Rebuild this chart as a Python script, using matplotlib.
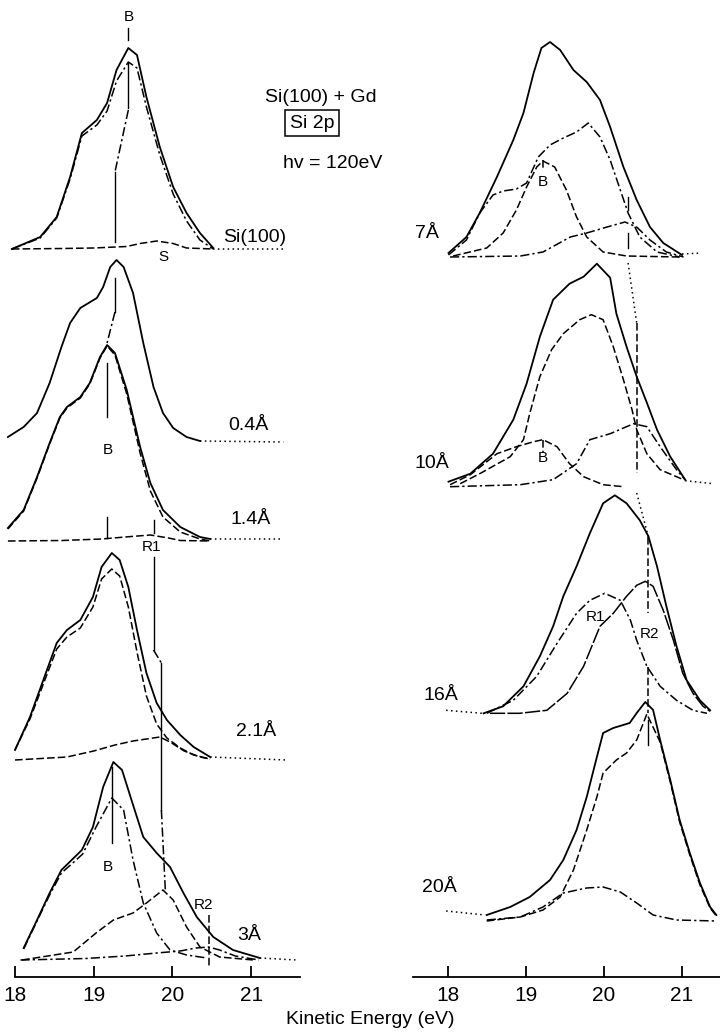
import matplotlib.pyplot as plt

plt.rcParams['font.family'] = ['Liberation Sans', 'DejaVu Sans']

# ---- left column: Si(100) + Gd, Si 2p, low coverages ----
# energies in eV, intensities in arbitrary units (height above each baseline)
si_e = [17.96, 18.32, 18.53, 18.70, 18.85, 19.04, 19.17, 19.29, 19.44, 19.55, 19.67, 19.84, 20.01, 20.18, 20.35, 20.52]
si_tot = [0, 12, 32, 72, 116, 129, 146, 179, 201, 194, 152, 102, 62, 36, 16, 1]
si_b = [0, 11, 31, 70, 113, 124, 138, 168, 187, 181, 142, 94, 55, 28, 9, 0]
si_s_e = [17.96, 18.6, 19.0, 19.42, 19.59, 19.80, 20.01, 20.18, 20.52]
si_s = [0, 0.5, 1, 2.5, 5.5, 8, 5.5, 1, 0]

d04_e = [17.91, 18.11, 18.28, 18.44, 18.59, 18.70, 18.83, 19.04, 19.12, 19.21, 19.29, 19.38, 19.50, 19.63, 19.76, 19.88, 20.01, 20.18, 20.35]
d04_tot = [5, 15, 29, 59, 95, 119, 134, 144, 155, 175, 182, 175, 149, 99, 55, 29, 14, 5, 1]

d14_e = [17.91, 18.11, 18.28, 18.44, 18.57, 18.66, 18.83, 18.95, 19.08, 19.17, 19.27, 19.42, 19.59, 19.72, 19.88, 20.10, 20.35, 20.48]
d14_tot = [13, 31, 64, 98, 124, 134, 144, 158, 184, 196, 188, 151, 94, 58, 31, 14, 4, 2]
d14_b = [12, 30, 63, 97, 123, 133, 143, 157, 183, 195, 186, 147, 88, 50, 24, 9, 2, 0]
d14_r1_e = [17.91, 18.6, 19.1, 19.4, 19.72, 19.95, 20.1, 20.48]
d14_r1 = [0, 0.5, 2, 4, 6, 3, 0.5, 0]

d21_e = [18.00, 18.19, 18.36, 18.53, 18.66, 18.83, 18.99, 19.10, 19.23, 19.33, 19.44, 19.55, 19.67, 19.80, 19.93, 20.10, 20.27, 20.48]
d21_tot = [10, 43, 80, 117, 130, 140, 163, 193, 207, 200, 173, 130, 87, 57, 40, 25, 13, 3]
d21_b = [10, 41, 76, 111, 123, 132, 153, 181, 191, 184, 153, 108, 64, 36, 22, 12, 5, 1]
d21_r1_e = [18.0, 18.66, 19.0, 19.27, 19.5, 19.84, 19.97, 20.15, 20.35, 20.48]
d21_r1 = [0, 3, 9, 15, 19, 23, 18, 9, 3, 1]

d3_e = [18.11, 18.28, 18.44, 18.59, 18.72, 18.85, 18.99, 19.12, 19.25, 19.36, 19.48, 19.63, 19.80, 19.97, 20.14, 20.31, 20.52, 20.77, 21.11]
d3_tot = [12, 40, 67, 90, 100, 110, 133, 173, 198, 190, 160, 123, 107, 93, 67, 43, 23, 10, 2]
d3_b_e = [18.11, 18.28, 18.44, 18.59, 18.72, 18.86, 19.03, 19.23, 19.38, 19.50, 19.63, 19.80, 19.97, 20.18, 20.44]
d3_b = [11, 39, 65, 87, 96, 106, 133, 162, 150, 100, 57, 27, 10, 5, 2]
d3_r1_e = [18.09, 18.74, 19.03, 19.25, 19.50, 19.67, 19.88, 20.01, 20.18, 20.35, 20.60, 21.03]
d3_r1 = [0, 8, 27, 40, 47, 57, 70, 60, 33, 13, 3, 0]
d3_r2_e = [18.07, 18.9, 19.4, 19.8, 20.1, 20.3, 20.46, 20.6, 20.8, 21.1]
d3_r2 = [0, 1.5, 4, 7, 9, 12, 13, 10, 4, 0]

# ---- right column: thicker Gd ----
d7_e = [18.01, 18.24, 18.41, 18.63, 18.84, 18.97, 19.10, 19.20, 19.31, 19.44, 19.61, 19.78, 19.95, 20.08, 20.25, 20.42, 20.59, 20.76, 21.00]
d7_tot = [4, 20, 44, 80, 117, 144, 184, 209, 215, 207, 187, 175, 157, 130, 90, 57, 30, 14, 2]
d7_r1_e = [18.01, 18.24, 18.41, 18.58, 18.71, 18.88, 19.01, 19.16, 19.31, 19.48, 19.65, 19.80, 19.95, 20.08, 20.21, 20.31, 20.46, 20.68, 20.97]
d7_r1 = [2, 17, 44, 62, 66, 68, 74, 100, 112, 119, 125, 134, 120, 97, 67, 44, 20, 5, 0]
d7_b_e = [18.07, 18.50, 18.71, 18.88, 19.01, 19.14, 19.22, 19.37, 19.52, 19.65, 19.78, 19.99, 20.29, 20.97]
d7_b = [1, 9, 24, 47, 70, 90, 96, 90, 67, 40, 20, 5, 1, 0]
d7_r2_e = [18.03, 18.93, 19.22, 19.57, 19.78, 20.04, 20.27, 20.42, 20.59, 20.80, 21.02]
d7_r2 = [0, 1, 5, 20, 24, 30, 35, 30, 17, 5, 0]

d10_e = [18.01, 18.29, 18.58, 18.84, 19.01, 19.18, 19.35, 19.56, 19.74, 19.91, 20.08, 20.16, 20.29, 20.42, 20.55, 20.68, 20.85, 21.04]
d10_tot = [5, 13, 33, 67, 103, 150, 187, 203, 210, 223, 209, 173, 140, 110, 84, 57, 30, 7]
d10_r1_e = [18.16, 18.41, 18.80, 18.97, 19.05, 19.18, 19.33, 19.48, 19.69, 19.84, 19.99, 20.12, 20.25, 20.36, 20.42, 20.55, 20.72, 21.02]
d10_r1 = [3, 13, 30, 47, 73, 110, 137, 153, 167, 172, 167, 140, 107, 77, 57, 33, 17, 7]
d10_b_e = [18.03, 18.29, 18.63, 18.88, 19.10, 19.22, 19.40, 19.56, 19.74, 19.99, 20.25]
d10_b = [2, 12, 33, 40, 45, 47, 40, 23, 10, 2, 0]
d10_r2_e = [18.03, 18.93, 19.35, 19.65, 19.82, 20.08, 20.38, 20.55, 20.72, 20.93, 21.04]
d10_r2 = [0, 2, 7, 23, 47, 53, 63, 60, 40, 17, 7]

d16_e = [18.46, 18.71, 18.97, 19.18, 19.35, 19.48, 19.65, 19.82, 19.99, 20.14, 20.29, 20.46, 20.57, 20.68, 20.80, 20.93, 21.06, 21.23, 21.36]
d16_tot = [0, 7, 27, 57, 87, 117, 147, 180, 210, 218, 210, 193, 177, 147, 107, 67, 33, 13, 3]
d16_r1_e = [18.50, 18.84, 19.14, 19.40, 19.65, 19.82, 20.01, 20.21, 20.34, 20.42, 20.55, 20.72, 20.93, 21.14, 21.32]
d16_r1 = [0, 13, 37, 70, 100, 113, 120, 113, 93, 73, 47, 27, 13, 3, 0]
d16_r2_e = [18.54, 18.92, 19.27, 19.53, 19.74, 19.95, 20.12, 20.29, 20.42, 20.53, 20.63, 20.76, 20.89, 21.01, 21.14, 21.27, 21.36]
d16_r2 = [0, 0, 3, 20, 47, 87, 100, 117, 128, 132, 127, 103, 73, 40, 20, 7, 2]

d20_e = [18.50, 18.80, 19.05, 19.31, 19.48, 19.65, 19.78, 19.91, 19.99, 20.12, 20.33, 20.42, 20.53, 20.63, 20.72, 20.85, 20.97, 21.10, 21.23, 21.36, 21.44]
d20_tot = [6, 14, 24, 41, 61, 91, 124, 164, 188, 193, 198, 208, 219, 211, 181, 141, 101, 68, 38, 14, 6]
d20_r2_e = [18.50, 18.93, 19.22, 19.44, 19.61, 19.78, 19.91, 19.99, 20.16, 20.29, 20.42, 20.55, 20.72, 20.85, 20.97, 21.10, 21.23, 21.36, 21.44]
d20_r2 = [0, 4, 11, 24, 51, 91, 124, 148, 161, 168, 181, 207, 179, 139, 99, 66, 36, 13, 5]
d20_r1_e = [18.50, 18.93, 19.22, 19.48, 19.78, 19.99, 20.21, 20.42, 20.63, 20.93, 21.44]
d20_r1 = [1, 4, 14, 28, 33, 34, 29, 18, 6, 1, 0]

# raw data tails (dotted), [start, end] energies and heights
tails_left = {'si': ([20.52, 21.41], [0, 0]), '04': ([20.35, 21.41], [1, 0]),
              '14': ([20.48, 21.41], [2, 2]), '21': ([20.48, 21.45], [3, 0]),
              '3': ([21.11, 21.58], [2, 0])}
tails_right = {'7': ([21.00, 21.25], [3, 4]), '10': ([21.04, 21.40], [6, 3]),
               '16': ([17.98, 18.44], [3, 0]), '20': ([17.98, 18.48], [10, 6])}

H = 976.7  # axis line row in pixels


def row(py):
    return H - py


SOLID = dict(color='black', lw=1.3, ls='-', solid_joinstyle='round')
DASH = dict(color='black', lw=1.1, ls=(0, (5, 2)))
DASHDOT = dict(color='black', lw=1.1, ls=(0, (6, 2, 1.5, 2)))
DOT = dict(color='black', lw=1.1, ls=(0, (1, 2.2)))


def trace(ax, e, h, base, style):
    ax.plot(e, [base + v for v in h], **style)


fig = plt.figure(figsize=(7.2, 10.36), dpi=100)
axL = fig.add_axes([0, (1036 - H) / 1036, 310 / 720, H / 1036])
axR = fig.add_axes([410 / 720, (1036 - H) / 1036, 310 / 720, H / 1036])
axL.set_xlim(18 - 15 / 78.7, 18 + 295 / 78.7)
axR.set_xlim(18 - 37.7 / 78.1, 18 + 272.3 / 78.1)
for ax, bounds in ((axL, (18.0, 21.62)), (axR, (17.56, 21.49))):
    ax.set_ylim(0, H)
    ax.patch.set_alpha(0)
    for s in ('left', 'right', 'top'):
        ax.spines[s].set_visible(False)
    ax.spines['bottom'].set_linewidth(1.3)
    ax.spines['bottom'].set_bounds(*bounds)
    ax.set_yticks([])
    ax.set_xticks([18, 19, 20, 21])
    ax.tick_params(axis='x', direction='in', length=8, width=1.3, labelsize=15, pad=7)

# left column spectra
b = row(249)
trace(axL, si_e, si_tot, b, SOLID)
trace(axL, si_e, si_b, b, DASHDOT)
trace(axL, si_s_e, si_s, b, DASH)
b = row(442)
trace(axL, d04_e, d04_tot, b, SOLID)
b = row(541)
trace(axL, d14_e, d14_tot, b, SOLID)
trace(axL, d14_e, d14_b, b, DASH)
trace(axL, d14_r1_e, d14_r1, b, DASH)
b = row(760)
trace(axL, d21_e, d21_tot, b, SOLID)
trace(axL, d21_e, d21_b, b, DASH)
trace(axL, d21_r1_e, d21_r1, b, DASH)
b = row(960)
trace(axL, d3_e, d3_tot, b, SOLID)
trace(axL, d3_b_e, d3_b, b, DASHDOT)
trace(axL, d3_r1_e, d3_r1, b, DASH)
trace(axL, d3_r2_e, d3_r2, b, DASHDOT)
for key, py in (('si', 249), ('04', 442), ('14', 541), ('21', 760), ('3', 960)):
    trace(axL, tails_left[key][0], tails_left[key][1], row(py), DOT)

# right column spectra
b = row(257)
trace(axR, d7_e, d7_tot, b, SOLID)
trace(axR, d7_r1_e, d7_r1, b, DASHDOT)
trace(axR, d7_b_e, d7_b, b, DASH)
trace(axR, d7_r2_e, d7_r2, b, DASHDOT)
b = row(486.7)
trace(axR, d10_e, d10_tot, b, SOLID)
trace(axR, d10_r1_e, d10_r1, b, DASH)
trace(axR, d10_b_e, d10_b, b, DASH)
trace(axR, d10_r2_e, d10_r2, b, DASHDOT)
b = row(713.3)
trace(axR, d16_e, d16_tot, b, SOLID)
trace(axR, d16_r1_e, d16_r1, b, DASHDOT)
trace(axR, d16_r2_e, d16_r2, b, dict(color='black', lw=1.1, ls=(0, (10, 1.5))))
b = row(921)
trace(axR, d20_e, d20_tot, b, SOLID)
trace(axR, d20_r2_e, d20_r2, b, DASH)
trace(axR, d20_r1_e, d20_r1, b, DASHDOT)
for key, py in (('7', 257), ('10', 486.7), ('16', 713.3), ('20', 921)):
    trace(axR, tails_right[key][0], tails_right[key][1], row(py), DOT)


def guide(ax, e0, p0, e1, p1, style):
    ax.plot([e0, e1], [row(p0), row(p1)], **style)


TH = dict(color='black', lw=1.0, ls='-')
# peak-position guides, left
guide(axL, 19.44, 28, 19.44, 40, TH)
guide(axL, 19.44, 63, 19.44, 108, TH)
guide(axL, 19.44, 110, 19.27, 172, DASHDOT)
guide(axL, 19.27, 172, 19.27, 242, TH)
guide(axL, 19.27, 278, 19.27, 312, TH)
guide(axL, 19.27, 312, 19.17, 343, DASHDOT)
guide(axL, 19.17, 363, 19.17, 417, TH)
guide(axL, 19.17, 517, 19.17, 538, TH)
guide(axL, 19.76, 520, 19.76, 533, TH)
guide(axL, 19.76, 557, 19.76, 650, TH)
guide(axL, 19.76, 650, 19.86, 663, DASHDOT)
guide(axL, 19.86, 663, 19.86, 810, TH)
guide(axL, 19.86, 810, 19.91, 890, DASHDOT)
guide(axL, 19.23, 767, 19.23, 843, TH)
guide(axL, 20.46, 915, 20.46, 967, DASH)
# peak-position guides, right
guide(axR, 20.31, 197, 20.31, 210, TH)
guide(axR, 20.31, 233, 20.31, 248, TH)
guide(axR, 20.31, 263, 20.42, 323, DOT)
guide(axR, 20.42, 323, 20.42, 473, DASH)
guide(axR, 20.42, 493, 20.57, 537, DOT)
guide(axR, 20.57, 537, 20.57, 613, DASH)
guide(axR, 20.57, 667, 20.57, 713, DASH)
guide(axR, 20.57, 720, 20.57, 745, TH)
guide(axR, 19.22, 160, 19.22, 170, DASH)
guide(axR, 19.22, 440, 19.22, 453, DASH)

FS = 14
SM = 11
for ax, e, py, s, fs in (
        (axL, 19.44, 17, 'B', SM), (axL, 21.04, 237, 'Si(100)', FS), (axL, 19.88, 257, 'S', SM),
        (axL, 20.96, 425, '0.4Å', FS), (axL, 21.00, 520, '1.4Å', FS), (axL, 19.18, 450, 'B', SM),
        (axL, 19.74, 547, 'R1', SM), (axL, 21.06, 731, '2.1Å', FS), (axL, 19.18, 867, 'B', SM),
        (axL, 20.39, 905, 'R2', SM), (axL, 20.97, 935, '3Å', FS),
        (axR, 17.73, 233, '7Å', FS), (axR, 19.22, 182, 'B', SM), (axR, 17.80, 463, '10Å', FS),
        (axR, 19.22, 458, 'B', SM), (axR, 17.91, 695, '16Å', FS), (axR, 19.89, 617, 'R1', SM),
        (axR, 20.59, 634, 'R2', SM), (axR, 17.89, 887, '20Å', FS)):
    ax.text(e, row(py), s, ha='center', va='center', fontsize=fs)

fig.text(265 / 720, 1 - 97 / 1036, 'Si(100) + Gd', fontsize=FS, ha='left', va='center')
fig.text(290 / 720, 1 - 123 / 1036, 'Si 2p', fontsize=FS, ha='left', va='center',
         bbox=dict(boxstyle='square,pad=0.25', fc='white', ec='black', lw=1.1))
fig.text(283 / 720, 1 - 163 / 1036, 'hv = 120eV', fontsize=FS, ha='left', va='center')
fig.text(370 / 720, 1 - 1020 / 1036, 'Kinetic Energy (eV)', fontsize=FS, ha='center', va='center')

fig.savefig('out.png', dpi=100)
